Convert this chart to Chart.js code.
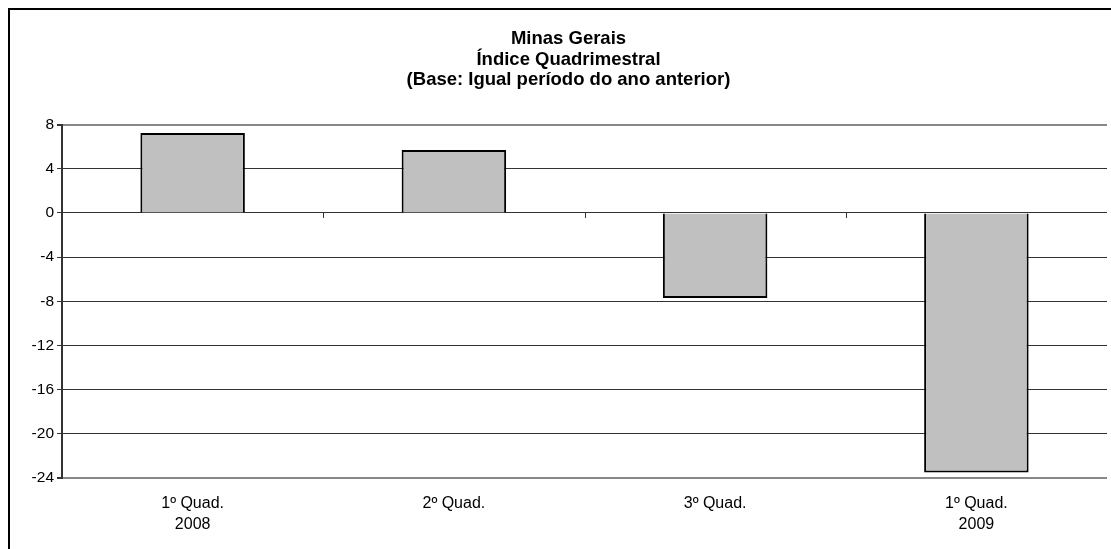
<!DOCTYPE html>
<html>
<head>
<meta charset="utf-8">
<title>Minas Gerais - Índice Quadrimestral</title>
<script src="https://cdn.jsdelivr.net/npm/chart.js@4/dist/chart.umd.min.js"></script>
<style>
  html, body { margin:0; padding:0; background:#fff; }
  #wrap { width:1111px; height:549px; position:relative; }
</style>
</head>
<body>
<div id="wrap"><canvas id="quadChart" width="1111" height="549"></canvas></div>
<script>
// ===== Data =====
const categories = [["1º Quad.", "2008"], ["2º Quad."], ["3º Quad."], ["1º Quad.", "2009"]];
const indexValues = [7.25, 5.7, -7.7, -23.5];
const titleLines = ["Minas Gerais", "Índice Quadrimestral", "(Base: Igual período do ano anterior)"];
const yMin = -24, yMax = 8, yStep = 4;

const FONT = "'Liberation Sans', Arial, sans-serif";

// outer frame (left + top black lines, like the original sheet)
const framePlugin = {
  id: "frame",
  beforeDraw(chart){
    const ctx = chart.ctx;
    ctx.save();
    ctx.fillStyle = "#fff";
    ctx.fillRect(0, 0, chart.width, chart.height);
    ctx.strokeStyle = "#000";
    ctx.lineWidth = 2;
    ctx.beginPath();
    ctx.moveTo(9, chart.height);
    ctx.lineTo(9, 9);
    ctx.lineTo(chart.width, 9);
    ctx.stroke();
    ctx.restore();
  }
};

// small tick marks under the zero line, between categories
const zeroTicksPlugin = {
  id: "zeroTicks",
  afterDatasetsDraw(chart){
    const x = chart.scales.x, y = chart.scales.y;
    const y0 = y.getPixelForValue(0);
    const half = (x.getPixelForValue(1) - x.getPixelForValue(0)) / 2;
    const ctx = chart.ctx;
    ctx.save();
    ctx.strokeStyle = "#333";
    ctx.lineWidth = 1;
    ctx.beginPath();
    for(let i = 1; i < categories.length; i++){
      const px = Math.round(x.getPixelForValue(i) - half) + 0.5;
      ctx.moveTo(px, y0);
      ctx.lineTo(px, y0 + 5);
    }
    ctx.stroke();
    ctx.restore();
  }
};

new Chart(document.getElementById("quadChart").getContext("2d"), {
  type: "bar",
  data: {
    labels: categories,
    datasets: [{
      data: indexValues,
      backgroundColor: "#c0c0c0",
      borderColor: "#000",
      borderWidth: 2,
      barPercentage: 0.4,
      categoryPercentage: 1
    }]
  },
  options: {
    responsive: false,
    animation: false,
    layout: { padding: { left: 30, right: 4, top: 29, bottom: 0 } },
    plugins: {
      legend: { display: false },
      tooltip: { enabled: false },
      title: {
        display: true,
        text: titleLines,
        color: "#000",
        font: { family: FONT, size: 18.5, weight: "bold", lineHeight: 1.11 },
        padding: { top: 0, bottom: 34 }
      }
    },
    scales: {
      x: {
        offset: true,
        afterFit(scale){ scale.height = 71; },
        grid: {
          offset: true,
          drawTicks: false,
          color: ctx => ctx.index === categories.length ? "#888" : "rgba(0,0,0,0)",
          lineWidth: 2
        },
        border: { display: false },
        ticks: {
          color: "#000",
          padding: 15,
          maxRotation: 0,
          font: { family: FONT, size: 16, lineHeight: 1.3 }
        }
      },
      y: {
        min: yMin,
        max: yMax,
        afterFit(scale){ scale.width = 32; },
        ticks: {
          stepSize: yStep,
          color: "#000",
          padding: 3,
          font: { family: FONT, size: 15.5 }
        },
        grid: {
          color: ctx => (ctx.tick && (ctx.tick.value === yMax || ctx.tick.value === yMin)) ? "#888" : "#333",
          lineWidth: ctx => (ctx.tick && (ctx.tick.value === yMax || ctx.tick.value === yMin)) ? 2 : 1,
          tickLength: 5,
          tickColor: "#333"
        },
        border: { color: "#333", width: 2 }
      }
    }
  },
  plugins: [framePlugin, zeroTicksPlugin]
});
</script>
</body>
</html>
